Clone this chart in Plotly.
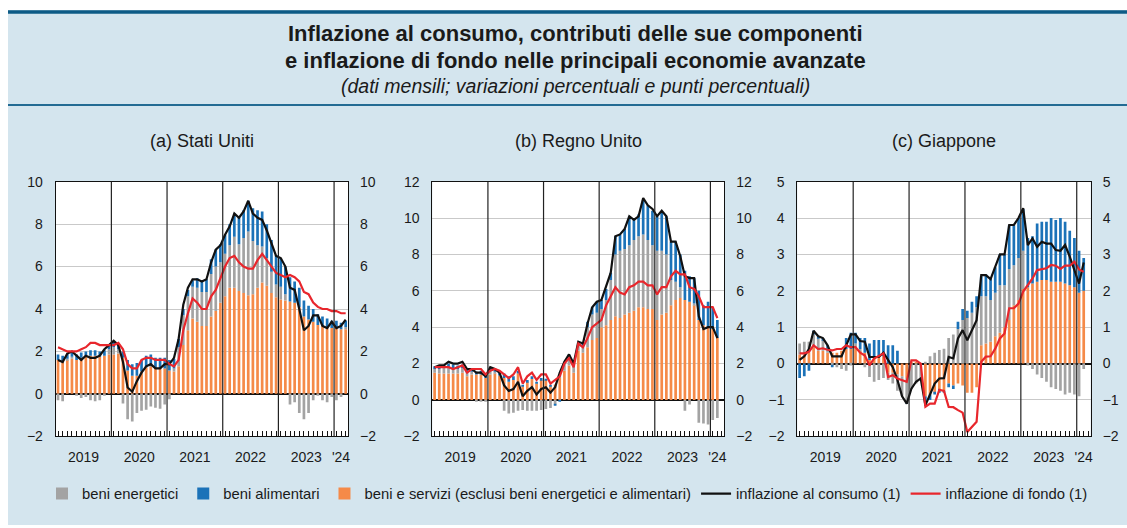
import plotly.graph_objects as go

# ---------------- data ----------------
years = [2019, 2020, 2021, 2022, 2023, 2024]
months = [f"{y}-{m:02d}" for y in years for m in range(1, 13)][:63]   # Jan 2019 - Mar 2024
year_labels = ["2019", "2020", "2021", "2022", "2023", "'24"]

# United States (Jan 2019 - Mar 2024)
us_energy = [-0.3, -0.35, 0.05, 0.1, -0.05, -0.2, -0.15, -0.3, -0.35, -0.3, -0.05, 0.25,
             0.35, 0.2, -0.45, -1.2, -1.3, -0.9, -0.8, -0.75, -0.6, -0.65, -0.7, -0.5,
             -0.25, 0.15, 0.9, 1.4, 1.6, 1.5, 1.6, 1.6, 1.6, 2.0, 2.1, 1.9,
             2.0, 2.0, 2.4, 2.2, 2.6, 3.0, 2.5, 2.0, 1.7, 1.3, 1.0, 0.6,
             0.6, 0.3, -0.5, -0.4, -0.9, -1.2, -0.9, -0.3, -0.05, -0.3, -0.4, -0.15,
             -0.3, -0.15, 0.1]
us_food = [0.25, 0.25, 0.25, 0.25, 0.25, 0.25, 0.25, 0.25, 0.25, 0.25, 0.25, 0.25,
           0.25, 0.25, 0.3, 0.5, 0.55, 0.6, 0.55, 0.55, 0.55, 0.5, 0.5, 0.5,
           0.5, 0.45, 0.4, 0.3, 0.3, 0.3, 0.45, 0.5, 0.6, 0.7, 0.8, 0.85,
           0.9, 1.0, 1.1, 1.25, 1.3, 1.45, 1.55, 1.65, 1.65, 1.6, 1.5, 1.4,
           1.35, 1.3, 1.15, 1.0, 0.9, 0.75, 0.65, 0.6, 0.5, 0.45, 0.4, 0.35,
           0.35, 0.3, 0.3]
us_core_c = [1.6, 1.55, 1.6, 1.65, 1.6, 1.7, 1.75, 1.8, 1.8, 1.75, 1.8, 1.85,
             1.85, 1.9, 1.7, 1.1, 0.85, 0.85, 1.05, 1.25, 1.3, 1.2, 1.2, 1.2,
             1.1, 1.05, 1.3, 2.3, 3.0, 3.55, 3.4, 3.2, 3.2, 3.65, 3.9, 4.3,
             4.6, 5.0, 5.0, 4.85, 4.75, 4.65, 4.7, 5.0, 5.25, 5.1, 4.75, 4.55,
             4.45, 4.4, 4.35, 4.3, 4.1, 3.65, 3.5, 3.4, 3.25, 3.2, 3.15, 3.1,
             3.1, 3.05, 3.05]
us_cpi = [1.6, 1.5, 1.9, 2.0, 1.8, 1.6, 1.8, 1.7, 1.7, 1.8, 2.1, 2.3,
          2.5, 2.3, 1.5, 0.3, 0.1, 0.6, 1.0, 1.3, 1.4, 1.2, 1.2, 1.4,
          1.4, 1.7, 2.6, 4.2, 5.0, 5.4, 5.4, 5.3, 5.4, 6.2, 6.8, 7.0,
          7.5, 7.9, 8.5, 8.3, 8.6, 9.1, 8.5, 8.3, 8.2, 7.7, 7.1, 6.5,
          6.4, 6.0, 5.0, 4.9, 4.0, 3.0, 3.2, 3.7, 3.7, 3.2, 3.1, 3.4,
          3.1, 3.2, 3.5]
us_core = [2.2, 2.1, 2.0, 2.0, 2.0, 2.1, 2.2, 2.4, 2.4, 2.3, 2.3, 2.3,
           2.3, 2.4, 2.1, 1.4, 1.2, 1.2, 1.6, 1.7, 1.7, 1.6, 1.6, 1.6,
           1.4, 1.3, 1.6, 3.0, 3.8, 4.5, 4.3, 4.0, 4.0, 4.6, 4.9, 5.5,
           6.0, 6.4, 6.5, 6.2, 6.0, 5.9, 5.9, 6.3, 6.6, 6.3, 6.0, 5.7,
           5.6, 5.5, 5.6, 5.5, 5.3, 4.8, 4.7, 4.3, 4.1, 4.0, 4.0, 3.9,
           3.9, 3.8, 3.8]

# United Kingdom (Jan 2019 - Feb 2024)
uk_energy = [0.2, 0.25, 0.3, 0.35, 0.3, 0.25, 0.25, 0.2, 0.15, -0.1, -0.1, -0.05,
             0.2, 0.1, 0.0, -0.6, -0.75, -0.7, -0.6, -0.55, -0.6, -0.6, -0.6, -0.55,
             -0.5, -0.45, -0.25, 0.2, 0.4, 0.5, 0.4, 0.4, 0.4, 1.1, 1.4, 1.4,
             1.0, 1.4, 2.2, 3.4, 3.7, 3.6, 3.7, 3.9, 3.9, 4.0, 3.8, 3.5,
             3.8, 3.5, 3.2, 1.4, 1.0, 0.6, -0.6, -0.25, 0.1, -1.25, -1.3, -1.35,
             -1.1, -1.0]
uk_food = [0.15, 0.15, 0.15, 0.2, 0.2, 0.2, 0.2, 0.15, 0.15, 0.15, 0.2, 0.2,
           0.2, 0.15, 0.15, 0.25, 0.3, 0.2, 0.15, 0.05, 0.1, 0.15, 0.05, 0.1,
           0.05, 0.05, -0.05, -0.1, 0.05, 0.1, 0.1, 0.1, 0.1, 0.3, 0.4, 0.6,
           0.5, 0.6, 0.4, 1.0, 0.9, 1.1, 1.6, 1.2, 1.2, 1.9, 1.9, 1.9,
           1.9, 2.1, 2.1, 2.1, 2.2, 1.8, 1.6, 1.4, 1.4, 1.6, 1.1, 1.4,
           1.2, 1.0]
uk_core_c = [1.5, 1.45, 1.45, 1.45, 1.45, 1.45, 1.5, 1.3, 1.4, 1.4, 1.4, 1.2,
             1.4, 1.45, 1.35, 1.2, 1.0, 1.1, 1.45, 0.75, 1.0, 1.15, 0.9, 1.1,
             1.1, 0.75, 0.85, 1.2, 1.6, 1.9, 1.5, 2.7, 2.6, 2.9, 3.3, 3.4,
             4.0, 4.1, 4.4, 4.6, 4.5, 4.7, 4.8, 4.9, 5.1, 5.1, 5.0, 5.0,
             4.4, 4.7, 4.8, 5.2, 5.5, 5.6, 5.5, 5.4, 5.2, 4.4, 4.1, 4.0,
             3.9, 3.4]
uk_cpi = [1.8, 1.9, 1.9, 2.1, 2.0, 2.0, 2.1, 1.7, 1.7, 1.5, 1.5, 1.3,
          1.8, 1.7, 1.5, 0.8, 0.5, 0.6, 1.0, 0.2, 0.5, 0.7, 0.3, 0.6,
          0.7, 0.4, 0.7, 1.5, 2.1, 2.5, 2.0, 3.2, 3.1, 4.2, 5.1, 5.4,
          5.5, 6.2, 7.0, 9.0, 9.1, 9.4, 10.1, 9.9, 10.1, 11.1, 10.7, 10.5,
          10.1, 10.4, 10.1, 8.7, 8.7, 7.9, 6.8, 6.7, 6.7, 4.6, 3.9, 4.0,
          4.0, 3.4]
uk_core = [1.8, 1.8, 1.8, 1.8, 1.7, 1.8, 1.9, 1.5, 1.7, 1.7, 1.7, 1.4,
           1.6, 1.7, 1.6, 1.4, 1.2, 1.4, 1.8, 0.9, 1.3, 1.5, 1.1, 1.4,
           1.4, 0.9, 1.1, 1.3, 2.0, 2.3, 1.8, 3.1, 2.9, 3.4, 4.0, 4.2,
           4.4, 5.2, 5.7, 6.2, 5.9, 5.8, 6.2, 6.3, 6.5, 6.5, 6.3, 6.3,
           5.8, 6.2, 6.2, 6.8, 7.1, 6.9, 6.9, 6.2, 6.1, 5.7, 5.1, 5.1,
           5.1, 4.5]

# Japan (Jan 2019 - Feb 2024)
jp_energy = [0.3, 0.35, 0.3, 0.35, 0.35, 0.3, 0.1, -0.05, -0.1, -0.15, -0.2, -0.05,
             0.15, 0.05, -0.1, -0.37, -0.5, -0.45, -0.4, -0.2, -0.3, -0.45, -0.55, -0.65,
             -0.7, -0.55, -0.4, 0.05, 0.2, 0.3, 0.37, 0.41, 0.7, 0.8, 0.95, 1.2,
             1.25, 1.4, 1.55, 1.35, 1.3, 1.15, 1.2, 1.3, 1.15, 1.4, 1.1, 1.15,
             1.05, -0.05, -0.15, -0.3, -0.4, -0.5, -0.65, -0.7, -0.75, -0.85, -0.8, -0.85,
             -0.9, -0.15]
jp_food = [-0.4, -0.35, -0.2, 0.1, 0.05, 0.05, 0.1, -0.05, 0.0, 0.0, 0.3, 0.45,
           0.3, 0.3, 0.4, 0.45, 0.5, 0.45, 0.45, 0.5, 0.5, 0.35, 0.0, -0.05,
           0.0, 0.0, 0.0, -0.25, -0.15, -0.05, -0.1, -0.05, -0.1, -0.1, 0.2, 0.3,
           0.2, 0.3, 0.3, 0.55, 0.6, 0.6, 0.7, 0.85, 0.85, 1.2, 1.1, 1.1,
           1.15, 1.35, 1.3, 1.6, 1.6, 1.6, 1.75, 1.7, 1.75, 1.7, 1.5, 1.35,
           1.15, 0.9]
jp_core_c = [0.25, 0.25, 0.3, 0.45, 0.35, 0.35, 0.3, 0.3, 0.3, 0.35, 0.4, 0.4,
             0.4, 0.35, 0.3, 0.1, 0.15, 0.2, 0.2, -0.25, -0.25, -0.3, -0.35, -0.4,
             0.05, 0.05, 0.0, -0.9, -0.85, -0.8, -0.7, -0.75, -0.55, -0.6, -0.55, -0.6,
             -0.8, -0.8, -0.65, 0.5, 0.55, 0.6, 0.75, 0.85, 1.0, 1.2, 1.6, 1.75,
             2.05, 2.1, 2.2, 2.25, 2.3, 2.3, 2.25, 2.25, 2.25, 2.2, 2.15, 2.1,
             1.95, 2.0]
jp_cpi = [0.1, 0.2, 0.4, 0.9, 0.75, 0.7, 0.5, 0.2, 0.2, 0.2, 0.5, 0.8,
          0.8, 0.62, 0.6, 0.18, 0.18, 0.18, 0.3, 0.1, -0.1, -0.45, -0.9, -1.1,
          -0.69, -0.5, -0.41, -1.15, -0.83, -0.55, -0.41, -0.4, 0.18, 0.14, 0.69, 0.92,
          0.64, 0.92, 1.19, 2.43, 2.43, 2.32, 2.66, 3.0, 3.0, 3.81, 3.81, 4.0,
          4.27, 3.26, 3.44, 3.21, 3.35, 3.3, 3.3, 3.12, 3.1, 3.26, 2.94, 2.57,
          2.2, 2.78]
jp_core = [0.28, 0.28, 0.32, 0.5, 0.4, 0.42, 0.38, 0.36, 0.4, 0.4, 0.5, 0.45,
           0.45, 0.3, 0.22, -0.05, 0.14, 0.2, 0.28, -0.37, -0.32, -0.41, -0.46, -0.5,
           0.09, 0.09, 0.0, -1.19, -1.1, -1.1, -0.72, -0.75, -1.19, -1.2, -1.28, -1.35,
           -1.88, -1.75, -1.6, 0.05, 0.19, 0.2, 0.41, 0.69, 0.83, 1.52, 1.52, 1.65,
           1.98, 2.16, 2.34, 2.57, 2.6, 2.62, 2.71, 2.69, 2.6, 2.69, 2.69, 2.8,
           2.59, 2.52]

panels = [
    dict(title="(a) Stati Uniti", energy=us_energy, food=us_food, core_c=us_core_c,
         cpi=us_cpi, core=us_core, yrange=[-2, 10], dtick=2),
    dict(title="(b) Regno Unito", energy=uk_energy, food=uk_food, core_c=uk_core_c,
         cpi=uk_cpi, core=uk_core, yrange=[-2, 12], dtick=2),
    dict(title="(c) Giappone", energy=jp_energy, food=jp_food, core_c=jp_core_c,
         cpi=jp_cpi, core=jp_core, yrange=[-2, 5], dtick=1),
]

names = {
    "energy": "beni energetici",
    "food": "beni alimentari",
    "core_c": "beni e servizi (esclusi beni energetici e alimentari)",
    "cpi": "inflazione al consumo (1)",
    "core": "inflazione di fondo (1)",
}
colors = {"energy": "#a3a3a3", "food": "#1b72b8", "core_c": "#f58a48",
          "cpi": "#111111", "core": "#e8262c"}
ranks = {"energy": 1, "food": 2, "core_c": 3, "cpi": 4, "core": 5}

# ---------------- layout geometry (pixels) ----------------
W, H = 1127, 528
FONT = "Liberation Sans, Arial, Helvetica, sans-serif"
x_domains = [(55.7, 348.0), (432.3, 724.3), (797.3, 1090.7)]
y_top, y_bot = 181.7, 436.3

idx = list(range(len(months)))
x_idx = idx

def pad(v):
    return list(v) + [None] * (len(months) - len(v))

fig = go.Figure()
layout = dict(
    width=W, height=H, autosize=False,
    margin=dict(l=0, r=0, t=0, b=0, pad=0),
    paper_bgcolor="#d4e5ee",
    plot_bgcolor="#ffffff",
    barmode="relative",
    bargap=0.42,
    font=dict(family=FONT, color="#1a1a1a"),
    showlegend=True,
)

# year centres and boundaries (from month list)
year_of = [m[:4] for m in months]
uniq_years = sorted(set(year_of))
year_centres = [sum(i for i in idx if year_of[i] == y) / year_of.count(y) for y in uniq_years]
year_bounds = [year_of.index(y) - 0.5 for y in uniq_years[1:]]

shapes = []
annotations = []

for p, pan in enumerate(panels):
    n = p + 1
    xa = "x" if n == 1 else f"x{n}"
    ya = "y" if n == 1 else f"y{n}"
    ya_r = f"y{n + 3}"
    xkey = "xaxis" if n == 1 else f"xaxis{n}"
    ykey = "yaxis" if n == 1 else f"yaxis{n}"
    yrkey = f"yaxis{n + 3}"

    for key in ["core_c", "energy", "food"]:
        fig.add_trace(go.Bar(
            x=x_idx, y=pad(pan[key]), name=names[key], marker_color=colors[key],
            marker_line_width=0, xaxis=xa, yaxis=ya, legendrank=ranks[key],
            showlegend=(n == 1), legendgroup=key))
    for key in ["cpi", "core"]:
        fig.add_trace(go.Scatter(
            x=x_idx, y=pad(pan[key]), name=names[key], mode="lines",
            line=dict(color=colors[key], width=2.2), xaxis=xa, yaxis=ya,
            legendrank=ranks[key], showlegend=(n == 1), legendgroup=key,
            connectgaps=False))
    # invisible trace to anchor the right-hand axis
    fig.add_trace(go.Scatter(x=x_idx, y=pad(pan["cpi"]), mode="lines",
                             line=dict(width=0), opacity=0, showlegend=False,
                             hoverinfo="skip", xaxis=xa, yaxis=ya_r))

    x0, x1 = x_domains[p]
    ticks_y = list(range(pan["yrange"][0], pan["yrange"][1] + 1, pan["dtick"]))
    layout[xkey] = dict(
        domain=[x0 / W, x1 / W], anchor=ya, range=[-0.5, len(months) - 0.5],
        tickmode="array", tickvals=year_centres, ticktext=year_labels,
        ticks="", showgrid=False, zeroline=False,
        showline=True, linecolor="#111111", linewidth=1, mirror=True,
        tickfont=dict(size=14, color="#1a1a1a"), ticklabelstandoff=8,
        minor=dict(tickmode="array", tickvals=x_idx, ticks="inside", ticklen=5,
                   tickcolor="#111111", tickwidth=1, showgrid=False),
        fixedrange=True, automargin=False,
    )
    common_y = dict(
        range=pan["yrange"], tickmode="array", tickvals=ticks_y,
        tickfont=dict(size=14, color="#1a1a1a"), ticks="", fixedrange=True,
        automargin=False,
    )
    layout[ykey] = dict(
        domain=[1 - y_bot / H, 1 - y_top / H], anchor=xa,
        showgrid=True, gridcolor="#c9c9c9", gridwidth=1.2,
        zeroline=True, zerolinecolor="#111111", zerolinewidth=1.6,
        showline=True, linecolor="#111111", linewidth=1, mirror=True,
        ticklabelstandoff=9, **common_y)
    layout[yrkey] = dict(
        overlaying=ya, anchor=xa, side="right", showgrid=False, zeroline=False,
        showline=False, ticklabelstandoff=11, **common_y)

    # year separators
    for b in year_bounds:
        shapes.append(dict(type="line", xref=xa, yref=f"{ya} domain",
                           x0=b, x1=b, y0=0, y1=1,
                           line=dict(color="#222222", width=1.2), layer="above"))

    annotations.append(dict(text=pan["title"], xref="paper", yref="paper",
                            x=(x0 + x1) / 2 / W, y=1 - 141 / H,
                            xanchor="center", yanchor="middle", showarrow=False,
                            font=dict(size=18, color="#1a1a1a", family=FONT)))

# header
annotations += [
    dict(text="<b>Inflazione al consumo, contributi delle sue componenti</b>",
         xref="paper", yref="paper", x=575 / W, y=1 - 33 / H, xanchor="center",
         yanchor="middle", showarrow=False, font=dict(size=22, color="#1a1a1a", family=FONT)),
    dict(text="<b>e inflazione di fondo nelle principali economie avanzate</b>",
         xref="paper", yref="paper", x=575 / W, y=1 - 60 / H, xanchor="center",
         yanchor="middle", showarrow=False, font=dict(size=22, color="#1a1a1a", family=FONT)),
    dict(text="<i>(dati mensili; variazioni percentuali e punti percentuali)</i>",
         xref="paper", yref="paper", x=575 / W, y=1 - 86 / H, xanchor="center",
         yanchor="middle", showarrow=False, font=dict(size=19.5, color="#1a1a1a", family=FONT)),
]

# white border strips and header rules
shapes += [
    dict(type="rect", xref="paper", yref="paper", x0=0, x1=1, y0=1 - 10 / H, y1=1,
         fillcolor="#ffffff", line=dict(width=0), layer="below"),
    dict(type="rect", xref="paper", yref="paper", x0=0, x1=8 / W, y0=0, y1=1,
         fillcolor="#ffffff", line=dict(width=0), layer="below"),
    dict(type="rect", xref="paper", yref="paper", x0=0, x1=1, y0=0, y1=3 / H,
         fillcolor="#ffffff", line=dict(width=0), layer="below"),
    dict(type="line", xref="paper", yref="paper", x0=8 / W, x1=1, y0=1 - 12 / H, y1=1 - 12 / H,
         line=dict(color="#0d5b86", width=3.5)),
    dict(type="line", xref="paper", yref="paper", x0=8 / W, x1=1, y0=1 - 105 / H, y1=1 - 105 / H,
         line=dict(color="#236b93", width=2)),
]

layout["shapes"] = shapes
layout["annotations"] = annotations
layout["legend"] = dict(orientation="h", x=42 / W, y=1 - 494 / H, xanchor="left",
                        yanchor="middle", bgcolor="rgba(0,0,0,0)",
                        font=dict(size=14.8, color="#1a1a1a", family=FONT),
                        itemwidth=30, traceorder="normal", tracegroupgap=0)

fig.update_layout(**layout)
fig.write_html("out.html", config={"responsive": False, "displayModeBar": False},
               post_script="document.body.style.margin='0px';document.body.style.overflow='hidden';")
